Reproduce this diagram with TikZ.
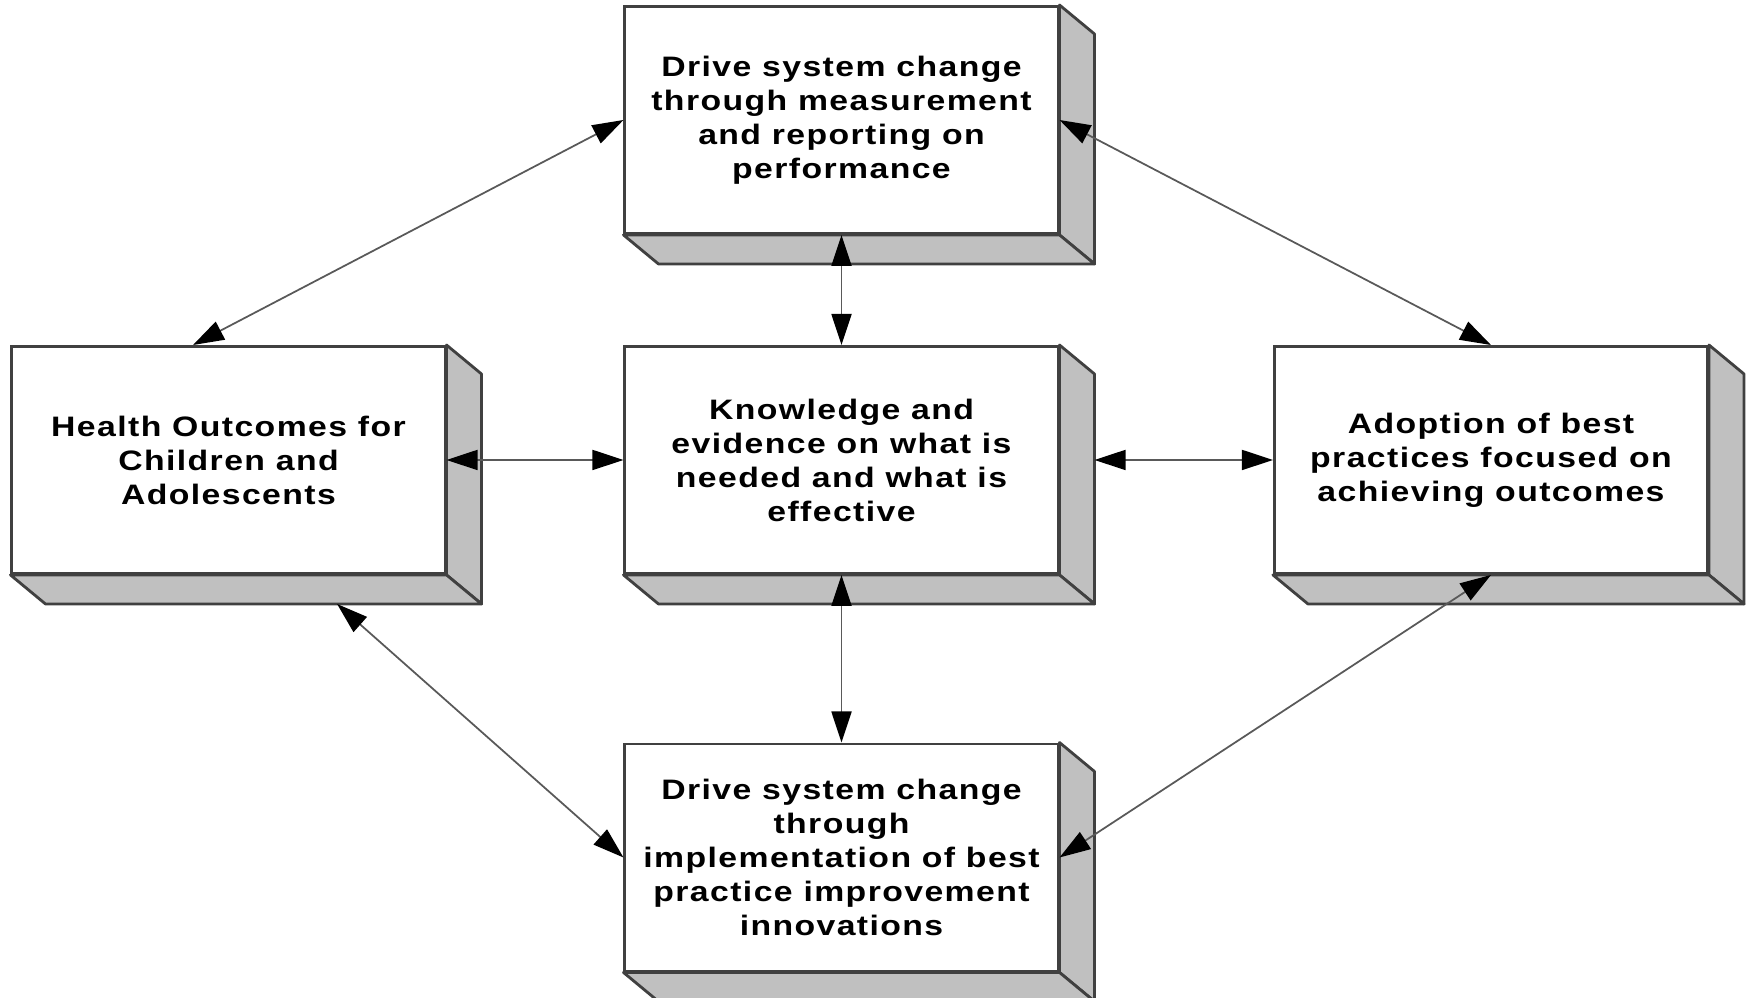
\documentclass[tikz,border=0pt]{standalone}
\usepackage{fontspec}
\setmainfont{Liberation Sans}[FakeStretch=1.2,LetterSpace=5]
\usepackage{tikz}
\usetikzlibrary{positioning}
\usetikzlibrary{arrows.meta}
\usetikzlibrary{calc}
\definecolor{sidegray}{HTML}{C0C0C0}
\definecolor{edgegray}{HTML}{404040}
% side and bottom faces behind a box
\newcommand\depthbox[1]{%
\filldraw[fill=sidegray, draw=edgegray, line width=0.8pt, line join=round] (#1.north east) -- ++(35,29) -- ($(#1.south east)+(35,29)$) -- (#1.south east) -- cycle;
\filldraw[fill=sidegray, draw=edgegray, line width=0.8pt, line join=round] (#1.south west) -- (#1.south east) -- ++(35,29) -- ($(#1.south west)+(35,29)$) -- cycle;
}

\begin{document}
\begin{tikzpicture}[x=0.01cm, y=-0.01cm,
  stepbox/.style={draw=edgegray, fill=white, line width=0.8pt, minimum width=4.33cm, minimum height=2.27cm, inner sep=0pt, align=center, font=\fontsize{8}{9.67}\selectfont\bfseries},
  link/.style={{Triangle[length=0.31cm,width=0.2cm,color=black]}-{Triangle[length=0.31cm,width=0.2cm,color=black]}, draw=black!65, line width=0.5pt}]
	%% canvas
	\useasboundingbox (0,0) rectangle (1750,998);
	
	% the five boxes
	\node[stepbox] (measure) at (841.5,120) {Drive system change\\through measurement\\and reporting on\\performance};
	\node[stepbox] (health) at (228.5,460) {Health Outcomes for\\Children and\\Adolescents};
	\node[stepbox] (knowledge) at (841.5,460) {Knowledge and\\evidence on what is\\needed and what is\\effective};
	\node[stepbox] (adoption) at (1491,460) {Adoption of best\\practices focused on\\achieving outcomes};
	\node[stepbox] (implement) at (841.5,857.5) {Drive system change\\through\\implementation of best\\practice improvement\\innovations};
	
	\depthbox{measure}
	\depthbox{health}
	\depthbox{knowledge}
	\depthbox{adoption}
	\depthbox{implement}
	
	% connectors
	\draw[link] (measure.west) -- ([xshift=-0.355cm]health.north);
	\draw[link] (measure.east) -- (adoption.north);
	\draw[link] (measure.south) -- (knowledge.north);
	\draw[link] (knowledge.south) -- (implement.north);
	\draw[link] (health.east) -- (knowledge.west);
	\draw[link] ([xshift=0.35cm]knowledge.east) -- (adoption.west);
	\draw[link] ([xshift=1.085cm,yshift=-0.29cm]health.south) -- (implement.west);
	\draw[link] (adoption.south) -- (implement.east);
	
\end{tikzpicture}
\end{document}
